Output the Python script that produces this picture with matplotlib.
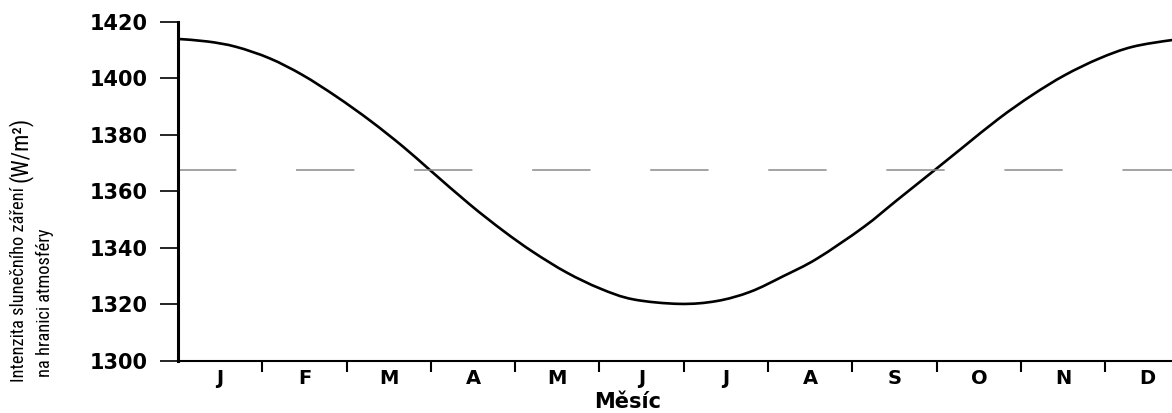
import matplotlib
matplotlib.use("Agg")
import matplotlib.pyplot as plt
from matplotlib import font_manager
from matplotlib.path import Path
from matplotlib.patches import PathPatch

# data (x in months from 1 Jan, y in W/m2)
month_pos = [0.0, 0.35, 0.69, 1.09, 1.48, 1.88, 2.28, 2.67, 2.99, 3.46, 3.86, 4.21,
             4.61, 5.01, 5.40, 5.95, 6.39, 6.79, 7.18, 7.58, 8.13,
             8.53, 9.00, 9.32, 9.74, 10.13, 10.52, 10.93, 11.32, 11.79, 12.0]
irradiance = [1413.9, 1413.0, 1411.1, 1407.0, 1401.1, 1393.5, 1385.0, 1375.8, 1367.5,
              1355.4, 1346.0, 1338.6, 1331.3, 1325.6, 1321.8, 1320.2, 1321.2,
              1324.5, 1330.0, 1336.2, 1347.3, 1356.9, 1368.1, 1375.8,
              1385.8, 1394.0, 1401.1, 1407.0, 1411.1, 1413.5, 1413.9]
solar_constant = 1367.5
month_labels = ["J", "F", "M", "A", "M", "J", "J", "A", "S", "O", "N", "D"]
y_ticks = [1300, 1320, 1340, 1360, 1380, 1400, 1420]


def smooth_path(xs, ys):
    """Catmull-Rom through the read points, as cubic bezier segments."""
    pts = list(zip(xs, ys))
    verts = [pts[0]]
    codes = [Path.MOVETO]
    n = len(pts)
    for i in range(n - 1):
        p0 = pts[max(i - 1, 0)]
        p1 = pts[i]
        p2 = pts[i + 1]
        p3 = pts[min(i + 2, n - 1)]
        c1 = (p1[0] + (p2[0] - p0[0]) / 6, p1[1] + (p2[1] - p0[1]) / 6)
        c2 = (p2[0] - (p3[0] - p1[0]) / 6, p2[1] - (p3[1] - p1[1]) / 6)
        verts += [c1, c2, p2]
        codes += [Path.CURVE4] * 3
    return Path(verts, codes)


def pick_font(candidates):
    names = {f.name for f in font_manager.fontManager.ttflist}
    for c in candidates:
        if c in names:
            return c
    return "DejaVu Sans"


W, H = 1172, 413
plt.rcParams['lines.scale_dashes'] = False
fig = plt.figure(figsize=(W / 100, H / 100), dpi=100)
fig.patch.set_facecolor("white")

# left spine at x=178 px, one month = 84.3 px, 1420 at y=21.7, 1300 at y=361
ax = fig.add_axes([178 / W, (H - 361) / H, 12 * 84.3 / W, (361 - 21.7) / H])
ax.set_xlim(0, 12)
ax.set_ylim(1300, 1420)

ax.axhline(solar_constant, color="#8a8a8a", lw=1.1, dashes=(42, 43))
ax.add_patch(PathPatch(smooth_path(month_pos, irradiance), fill=False,
                       edgecolor="black", lw=1.9))

for side in ["top", "right"]:
    ax.spines[side].set_visible(False)
ax.spines["left"].set_linewidth(2.2)
ax.spines["bottom"].set_linewidth(1.5)

tick_font = dict(family="DejaVu Sans", weight="bold", size=15)

ax.set_yticks(y_ticks)
ax.set_yticklabels([str(v) for v in y_ticks], fontdict=tick_font)
ax.tick_params(axis="y", direction="out", length=13, width=1.2, pad=9)

ax.set_xticks(range(1, 12))
ax.set_xticklabels([])
ax.tick_params(axis="x", which="major", direction="out", length=8, width=1.5)
ax.set_xticks([i + 0.5 for i in range(12)], minor=True)
ax.set_xticklabels(month_labels, minor=True,
                   fontdict=dict(family="DejaVu Sans", weight="bold", size=14))
ax.tick_params(axis="x", which="minor", length=0, pad=6)

fig.text(628 / W, 1 - 402 / H, "Měsíc", ha="center", va="center",
         family="DejaVu Sans", weight="bold", size=15)

narrow = pick_font(["Liberation Sans Narrow", "Roboto Condensed", "Open Sans Condensed",
                    "Noto Sans Condensed", "Liberation Sans"])
t1 = fig.text(19 / W, 1 - 382 / H, "Intenzita slunečního záření", rotation=90,
              ha="center", va="bottom", family=narrow, size=13.2)
fig.text(45 / W, 1 - 377 / H, "na hranici atmosféry", rotation=90,
         ha="center", va="bottom", family=narrow, size=13.2)

# put the unit right after the first line
fig.canvas.draw()
bb = t1.get_window_extent()
fig.text(20 / W, (bb.y1 + 5) / H, "(W/m²)", rotation=90,
         ha="center", va="bottom", family=narrow, size=16.5)

fig.savefig("out.png", dpi=100, facecolor="white")
